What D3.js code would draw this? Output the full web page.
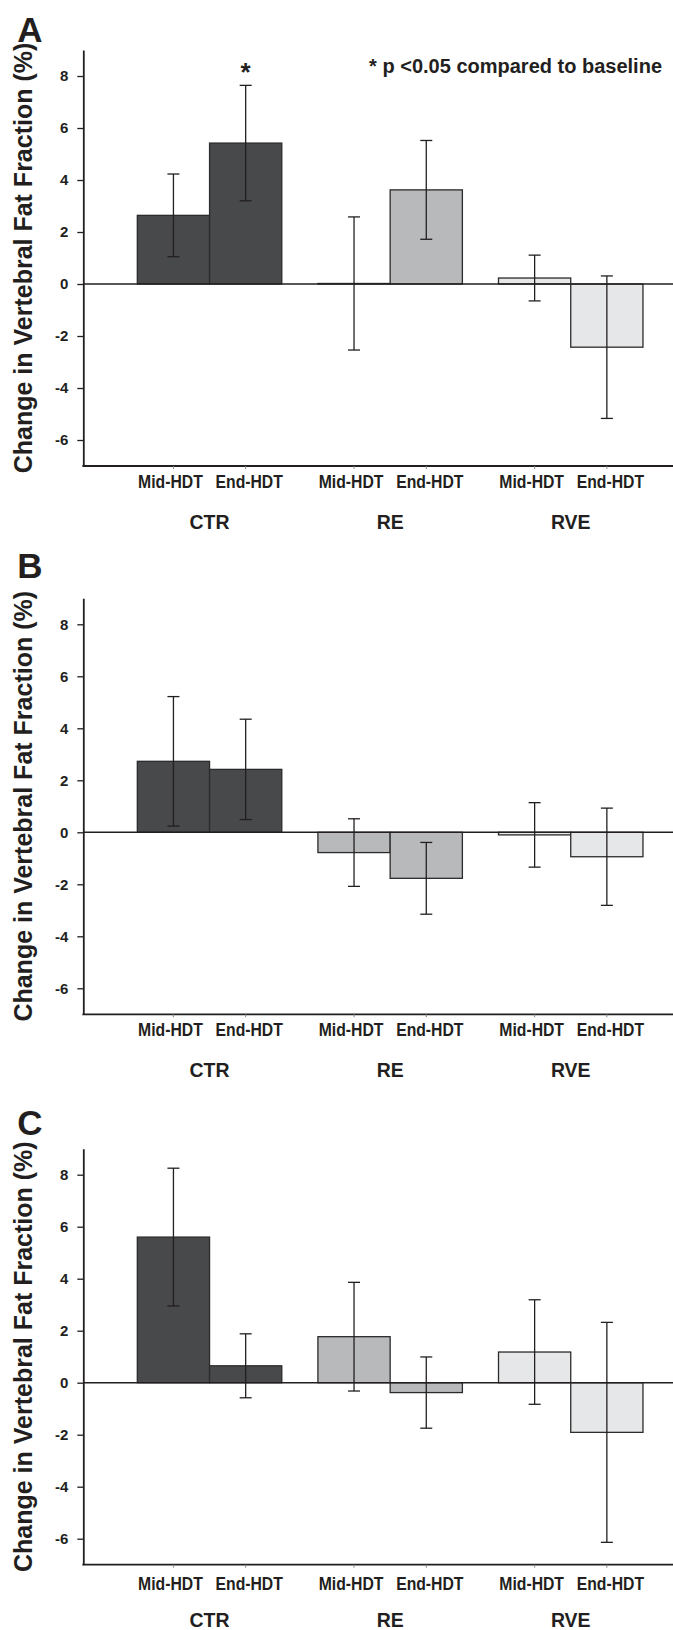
<!DOCTYPE html>
<html>
<head>
<meta charset="utf-8">
<script src="https://cdn.jsdelivr.net/npm/d3@7"></script>
<style>
  body { margin: 0; background: #fff; }
  text { font-family: "Liberation Sans", Arial, sans-serif; font-weight: bold; fill: #231f20; }
</style>
</head>
<body>
<div id="wrapper"></div>
<script>
// groups and timepoints
const groups = ["CTR", "RE", "RVE"]
const timepoints = ["Mid-HDT", "End-HDT"]
const yTicks = [-6, -4, -2, 0, 2, 4, 6, 8]

// mean change (%) per group, [Mid, End]
const meansA = [[2.64, 5.42], [0.02, 3.62], [0.23, -2.43]]
const errorsA = [[1.59, 2.22], [2.56, 1.90], [0.88, 2.74]]
const meansB = [[2.73, 2.42], [-0.78, -1.77], [-0.10, -0.94]]
const errorsB = [[2.49, 1.93], [1.30, 1.38], [1.24, 1.87]]
const meansC = [[5.60, 0.65], [1.77, -0.38], [1.18, -1.91]]
const errorsC = [[2.65, 1.23], [2.09, 1.37], [2.01, 4.23]]

const significantA = [["CTR", "End-HDT"]]
const legendText = "* p <0.05 compared to baseline"
const yTitle = "Change in Vertebral Fat Fraction (%)"

const colors = { CTR: "#48494b", RE: "#b8b9bb", RVE: "#e6e7e8" }
const ink = "#231f20"

let dimensions = {
    width: 673,
    height: 1630,
    axisX: 83.3,
    plotHeight: 416,
}

const panels = [
    { letter: "A", top: 50, letterY: 42, tpOffset: 22, means: meansA, errors: errorsA, stars: significantA, legend: true },
    { letter: "B", top: 598.3, letterY: 578, tpOffset: 22, means: meansB, errors: errorsB, stars: [], legend: false },
    { letter: "C", top: 1148.7, letterY: 1135, tpOffset: 25.5, means: meansC, errors: errorsC, stars: [], legend: false },
]

const svg = d3.select("#wrapper")
    .append("svg")
        .attr("width", dimensions.width)
        .attr("height", dimensions.height)

// x scales shared by all panels
const xGroup = d3.scaleBand()
    .domain(groups)
    .range([101.2, 679.1])
    .paddingInner(0.2)
    .paddingOuter(0.2)
const xSub = d3.scaleBand()
    .domain(timepoints)
    .range([0, xGroup.bandwidth()])

panels.forEach(p => {
    const yScale = d3.scaleLinear()
        .domain([-7, 9])
        .range([p.top + dimensions.plotHeight, p.top])

    const g = svg.append("g")

    const rows = []
    groups.forEach((grp, i) => {
        timepoints.forEach((tp, j) => {
            rows.push({ group: grp, tp: tp, value: p.means[i][j], err: p.errors[i][j] })
        })
    })
    const cx = d => xGroup(d.group) + xSub(d.tp) + xSub.bandwidth() / 2

    // bars
    g.selectAll("rect.bar")
        .data(rows)
        .join("rect")
            .attr("class", "bar")
            .attr("x", d => xGroup(d.group) + xSub(d.tp))
            .attr("width", xSub.bandwidth())
            .attr("y", d => Math.min(yScale(0), yScale(d.value)))
            .attr("height", d => Math.abs(yScale(d.value) - yScale(0)))
            .attr("fill", d => colors[d.group])
            .attr("stroke", "#2b2b2b")
            .attr("stroke-width", 1.3)

    // zero line
    g.append("line")
        .attr("x1", dimensions.axisX).attr("x2", dimensions.width)
        .attr("y1", yScale(0)).attr("y2", yScale(0))
        .attr("stroke", ink).attr("stroke-width", 1.6)

    // error bars
    const eb = g.selectAll("g.err").data(rows).join("g").attr("class", "err")
        .attr("stroke", ink).attr("stroke-width", 1.3)
    eb.append("line")
        .attr("x1", cx).attr("x2", cx)
        .attr("y1", d => yScale(d.value + d.err))
        .attr("y2", d => yScale(d.value - d.err))
    eb.append("line")
        .attr("x1", d => cx(d) - 6).attr("x2", d => cx(d) + 6)
        .attr("y1", d => yScale(d.value + d.err)).attr("y2", d => yScale(d.value + d.err))
    eb.append("line")
        .attr("x1", d => cx(d) - 6).attr("x2", d => cx(d) + 6)
        .attr("y1", d => yScale(d.value - d.err)).attr("y2", d => yScale(d.value - d.err))

    // y axis
    const yAxis = g.append("g")
        .attr("transform", `translate(${dimensions.axisX},0)`)
        .call(d3.axisLeft(yScale).tickValues(yTicks).tickFormat(d => String(d))
            .tickSize(6).tickSizeOuter(0).tickPadding(9))
    yAxis.select(".domain").attr("stroke", ink).attr("stroke-width", 1.8)
    yAxis.selectAll(".tick line").attr("stroke", ink).attr("stroke-width", 1.3)
    yAxis.selectAll(".tick text")
        .attr("fill", ink)
        .style("font-family", "'Liberation Sans', Arial, sans-serif")
        .style("font-weight", "bold")
        .style("font-size", "15px")

    // bottom axis
    const yBottom = yScale(-7)
    g.append("line")
        .attr("x1", dimensions.axisX - 0.9).attr("x2", dimensions.width)
        .attr("y1", yBottom).attr("y2", yBottom)
        .attr("stroke", ink).attr("stroke-width", 1.8)
    g.selectAll("line.xtick")
        .data(rows)
        .join("line")
            .attr("class", "xtick")
            .attr("x1", cx).attr("x2", cx)
            .attr("y1", yBottom).attr("y2", yBottom + 3)
            .attr("stroke", "#888").attr("stroke-width", 1)

    // timepoint labels (narrow lettering, nudged apart)
    g.selectAll("text.tp")
        .data(rows)
        .join("text")
            .attr("class", "tp")
            .attr("transform", d => `translate(${cx(d) + (d.tp === "Mid-HDT" ? -3 : 3.5)},${yBottom + p.tpOffset}) scale(0.9,1)`)
            .attr("text-anchor", "middle")
            .style("font-size", "17.5px")
            .text(d => d.tp)

    // group labels
    g.selectAll("text.grp")
        .data(groups)
        .join("text")
            .attr("class", "grp")
            .attr("transform", d => `translate(${xGroup(d) + xGroup.bandwidth() / 2},${yBottom + 62.5}) scale(0.95,1)`)
            .attr("text-anchor", "middle")
            .style("font-size", "20.5px")
            .text(d => d)

    // y title
    const midY = (yScale(9) + yScale(-7)) / 2
    g.append("text")
        .attr("transform", `translate(32,${midY}) rotate(-90)`)
        .attr("text-anchor", "middle")
        .style("font-size", "25px")
        .text(yTitle)

    // panel letter
    g.append("text")
        .attr("x", 30).attr("y", p.letterY)
        .attr("text-anchor", "middle")
        .style("font-size", "35px")
        .text(p.letter)

    // significance stars
    p.stars.forEach(([grp, tp]) => {
        const d = rows.find(r => r.group === grp && r.tp === tp)
        g.append("text")
            .attr("x", cx(d))
            .attr("y", yScale(d.value + d.err) - 4)
            .attr("text-anchor", "middle")
            .style("font-size", "26px")
            .text("*")
    })

    if (p.legend) {
        g.append("text")
            .attr("x", 662).attr("y", 73)
            .attr("text-anchor", "end")
            .style("font-size", "20px")
            .text(legendText)
    }
})
</script>
</body>
</html>
